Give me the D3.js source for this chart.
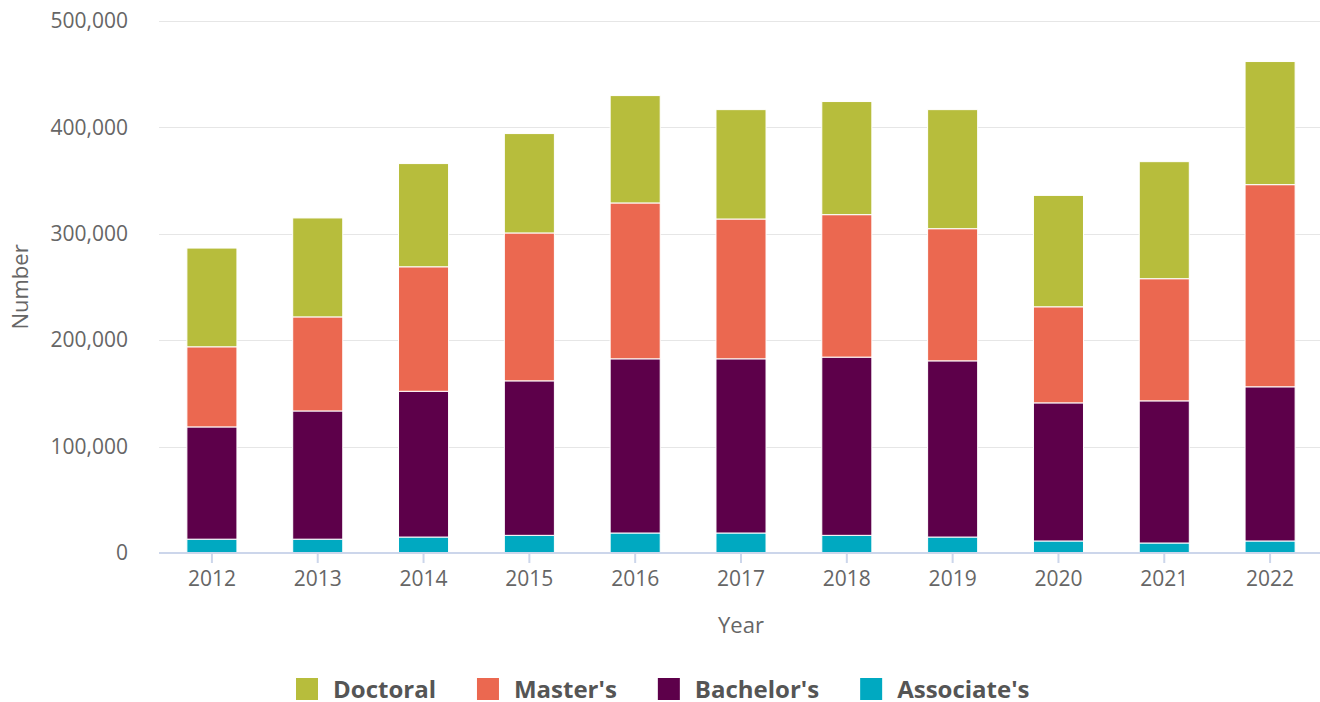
<!DOCTYPE html>
<meta charset="utf-8">
<style>
body { margin: 0; background: #fff; }
text { font-family: "Open Sans", sans-serif; }
.grid line { stroke: #e6e6e6; stroke-width: 1px; }
.axis text { fill: #666; font-size: 21px; }
.bar rect { stroke: #fff; stroke-width: 1px; }
.legend text { fill: #555; font-size: 24px; font-weight: bold; }
</style>
<svg width="1320" height="702"></svg>
<script src="https://d3js.org/d3.v7.min.js"></script>
<script>

var years = ["2012", "2013", "2014", "2015", "2016", "2017", "2018", "2019", "2020", "2021", "2022"];
var associate = [13000, 13000, 15000, 16600, 18800, 18800, 16600, 15000, 11300, 9400, 11300];
var bachelor  = [105500, 120500, 137000, 145200, 163700, 163700, 167500, 165600, 129800, 133600, 144900];
var master    = [75300, 88400, 117000, 139000, 146500, 131400, 133900, 124200, 90300, 114800, 190000];
var doctoral  = [92800, 93000, 97000, 93400, 100900, 102800, 106300, 111900, 104700, 110000, 115700];
var yTicks = [0, 100000, 200000, 300000, 400000, 500000];

// stack order bottom -> top
var series = [
  {name: "Associate's", color: "#00a9c1", values: associate},
  {name: "Bachelor's", color: "#5d004a", values: bachelor},
  {name: "Master's", color: "#eb6850", values: master},
  {name: "Doctoral", color: "#b7bd3c", values: doctoral}
];

var svg = d3.select("svg");
var plotLeft = 159, plotRight = 1323, plotTop = 21, plotBottom = 553;

var x = d3.scaleBand()
    .domain(years)
    .range([plotLeft, plotRight])
    .paddingInner(0.527)
    .paddingOuter(0.2635);

var y = d3.scaleLinear()
    .domain([0, 500000])
    .range([plotBottom, plotTop]);

// gridlines
svg.append("g")
    .attr("class", "grid")
  .selectAll("line")
  .data(yTicks.slice(1))
  .enter().append("line")
    .attr("x1", plotLeft)
    .attr("x2", plotRight)
    .attr("y1", function(d) { return Math.round(y(d)) + 0.5; })
    .attr("y2", function(d) { return Math.round(y(d)) + 0.5; });

// stacked data
var table = years.map(function(yr, i) {
  var row = {year: yr};
  series.forEach(function(s) { row[s.name] = s.values[i]; });
  return row;
});
var stack = d3.stack().keys(series.map(function(s) { return s.name; }));
var layers = stack(table);

svg.append("g")
    .attr("class", "bar")
  .selectAll("g")
  .data(layers)
  .enter().append("g")
    .attr("fill", function(d, i) { return series[i].color; })
  .selectAll("rect")
  .data(function(d) { return d; })
  .enter().append("rect")
    .attr("x", function(d) { return x(d.data.year); })
    .attr("width", x.bandwidth())
    .attr("y", function(d) { return y(d[1]); })
    .attr("height", function(d) { return y(d[0]) - y(d[1]); });

// x axis
var xAxis = svg.append("g")
    .attr("class", "axis")
    .attr("transform", "translate(0," + plotBottom + ")")
    .call(d3.axisBottom(x).tickSize(10).tickPadding(8));
xAxis.select(".domain").attr("stroke", "#ccd6eb").attr("stroke-width", 2).attr("d", "M" + plotLeft + ",0H" + plotRight);
xAxis.selectAll(".tick line").attr("stroke", "#ccd6eb").attr("stroke-width", 2);
xAxis.selectAll(".tick text").attr("fill", "#666");

// y axis labels
var yAxis = svg.append("g")
    .attr("class", "axis")
    .attr("transform", "translate(" + plotLeft + ",0)")
    .call(d3.axisLeft(y).tickValues(yTicks).tickSize(0).tickPadding(31).tickFormat(d3.format(",")));
yAxis.select(".domain").remove();
yAxis.selectAll(".tick text").attr("fill", "#666");

// axis titles
svg.append("text")
    .attr("x", (plotLeft + plotRight) / 2)
    .attr("y", 633)
    .attr("text-anchor", "middle")
    .attr("fill", "#666")
    .style("font-size", "22px")
    .text("Year");

svg.append("text")
    .attr("transform", "translate(28," + (plotTop + plotBottom) / 2 + ") rotate(-90)")
    .attr("text-anchor", "middle")
    .attr("fill", "#666")
    .style("font-size", "22px")
    .text("Number");

// legend, top series first
var legendItems = series.slice().reverse();
var legend = svg.append("g").attr("class", "legend");
var items = legend.selectAll("g")
  .data(legendItems)
  .enter().append("g");
items.append("rect")
    .attr("width", 22)
    .attr("height", 22)
    .attr("y", 678)
    .attr("fill", function(d) { return d.color; });
items.append("text")
    .attr("x", 37)
    .attr("y", 698)
    .text(function(d) { return d.name; });

var widths = [];
items.each(function() {
  var w = d3.select(this).select("text").node().getComputedTextLength();
  widths.push(37 + w);
});
var gap = 41;
var start = 296;
items.attr("transform", function(d, i) {
  var t = "translate(" + start + ",0)";
  start += widths[i] + gap;
  return t;
});

</script>
